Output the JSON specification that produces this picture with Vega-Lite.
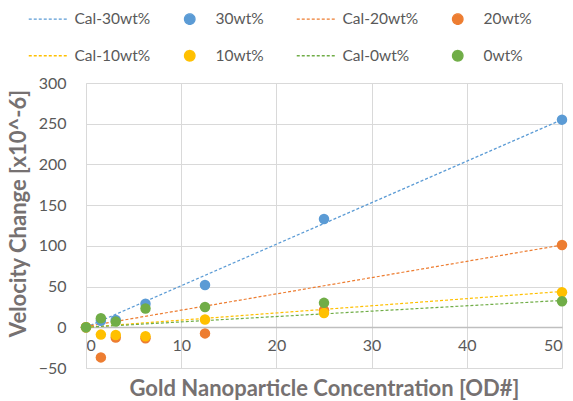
{
  "$schema": "https://vega.github.io/schema/vega-lite/v6.json",
  "width": 476,
  "height": 285,
  "autosize": "none",
  "padding": {"left": 86, "top": 83, "right": 11, "bottom": 33},
  "background": "white",
  "config": {
    "font": "Lato",
    "view": {"stroke": null},
    "axis": {"labelFont": "Lato", "titleFont": "Lato"},
    "legend": {"labelFont": "Lato"}
  },
  "datasets": {
    "fits": [
      {"series": "Cal-30wt%", "x": 0, "y": 0},
      {"series": "Cal-30wt%", "x": 50, "y": 255},
      {"series": "Cal-20wt%", "x": 0, "y": 1},
      {"series": "Cal-20wt%", "x": 50, "y": 101},
      {"series": "Cal-10wt%", "x": 0, "y": 0},
      {"series": "Cal-10wt%", "x": 50, "y": 44},
      {"series": "Cal-0wt%", "x": 0, "y": 0},
      {"series": "Cal-0wt%", "x": 50, "y": 33}
    ],
    "points": [
      {"series": "30wt%", "x": 0, "y": 0},
      {"series": "30wt%", "x": 1.5625, "y": 8},
      {"series": "30wt%", "x": 3.125, "y": 9},
      {"series": "30wt%", "x": 6.25, "y": 29},
      {"series": "30wt%", "x": 12.5, "y": 52},
      {"series": "30wt%", "x": 25, "y": 133},
      {"series": "30wt%", "x": 50, "y": 255},
      {"series": "20wt%", "x": 0, "y": 0},
      {"series": "20wt%", "x": 1.5625, "y": -37},
      {"series": "20wt%", "x": 3.125, "y": -12.5},
      {"series": "20wt%", "x": 6.25, "y": -13.5},
      {"series": "20wt%", "x": 12.5, "y": -7.5},
      {"series": "20wt%", "x": 25, "y": 21},
      {"series": "20wt%", "x": 50, "y": 101},
      {"series": "10wt%", "x": 0, "y": 0},
      {"series": "10wt%", "x": 1.5625, "y": -9},
      {"series": "10wt%", "x": 3.125, "y": -9.5},
      {"series": "10wt%", "x": 6.25, "y": -11},
      {"series": "10wt%", "x": 12.5, "y": 9.5},
      {"series": "10wt%", "x": 25, "y": 17.5},
      {"series": "10wt%", "x": 50, "y": 43},
      {"series": "0wt%", "x": 0, "y": 0},
      {"series": "0wt%", "x": 1.5625, "y": 11},
      {"series": "0wt%", "x": 3.125, "y": 7},
      {"series": "0wt%", "x": 6.25, "y": 23},
      {"series": "0wt%", "x": 12.5, "y": 25},
      {"series": "0wt%", "x": 25, "y": 30},
      {"series": "0wt%", "x": 50, "y": 32}
    ]
  },
  "encoding": {
    "x": {
      "field": "x", "type": "quantitative",
      "scale": {"domain": [0, 50], "nice": false},
      "axis": {
        "values": [0, 10, 20, 30, 40, 50],
        "offset": -41,
        "ticks": false,
        "labelPadding": 10,
        "labelFontSize": 16,
        "labelColor": "#595959",
        "grid": true,
        "gridColor": "#d9d9d9",
        "domainColor": "#bfbfbf",
        "domainWidth": 1.5,
        "title": "Gold Nanoparticle Concentration [OD#]",
        "titleFontSize": 22,
        "titleFontWeight": "bold",
        "titleColor": "#767171",
        "titleBaseline": "alphabetic",
        "titleY": 68
      }
    },
    "y": {
      "field": "y", "type": "quantitative",
      "scale": {"domain": [-50, 300], "nice": false},
      "axis": {
        "values": [-50, 0, 50, 100, 150, 200, 250, 300],
        "ticks": false,
        "labelPadding": 20,
        "labelFontSize": 16,
        "labelColor": "#595959",
        "grid": true,
        "gridColor": "#d9d9d9",
        "domainColor": "#d9d9d9",
        "title": "Velocity Change [x10^-6]",
        "titleFontSize": 22,
        "titleFontWeight": "bold",
        "titleColor": "#767171",
        "titleX": -56,
        "titleY": 130
      }
    },
    "color": {
      "field": "series", "type": "nominal",
      "scale": {
        "domain": ["Cal-30wt%", "Cal-10wt%", "30wt%", "10wt%", "Cal-20wt%", "Cal-0wt%", "20wt%", "0wt%"],
        "range": ["#5B9BD5", "#FFC000", "#5B9BD5", "#FFC000", "#ED7D31", "#70AD47", "#ED7D31", "#70AD47"]
      },
      "legend": {
        "title": null,
        "orient": "none",
        "legendX": -45,
        "legendY": -72,
        "columns": 4,
        "gridAlign": "each",
        "columnPadding": 30,
        "rowPadding": 19,
        "labelFontSize": 15.5,
        "labelColor": "#595959",
        "labelOffset": 18,
        "symbolSize": 1600,
        "symbolStrokeWidth": 1.3,
        "encode": {
          "symbols": {
            "update": {
              "shape": {"signal": "test(/^Cal/, datum.value) ? 'stroke' : 'circle'"},
              "size": {"signal": "test(/^Cal/, datum.value) ? 1600 : 110"},
              "strokeDash": {"signal": "test(/^Cal/, datum.value) ? [3, 2] : [1, 0]"},
              "fill": {"signal": "test(/^Cal/, datum.value) ? 'transparent' : scale('color', datum.value)"},
              "stroke": {"signal": "test(/^Cal/, datum.value) ? scale('color', datum.value) : 'transparent'"}
            }
          }
        }
      }
    }
  },
  "layer": [
    {
      "data": {"name": "fits"},
      "mark": {"type": "line", "strokeWidth": 1.2, "strokeDash": [3, 2]},
      "encoding": {"detail": {"field": "series"}}
    },
    {
      "data": {"name": "points"},
      "mark": {"type": "point", "filled": true, "opacity": 1, "size": 110}
    }
  ]
}
